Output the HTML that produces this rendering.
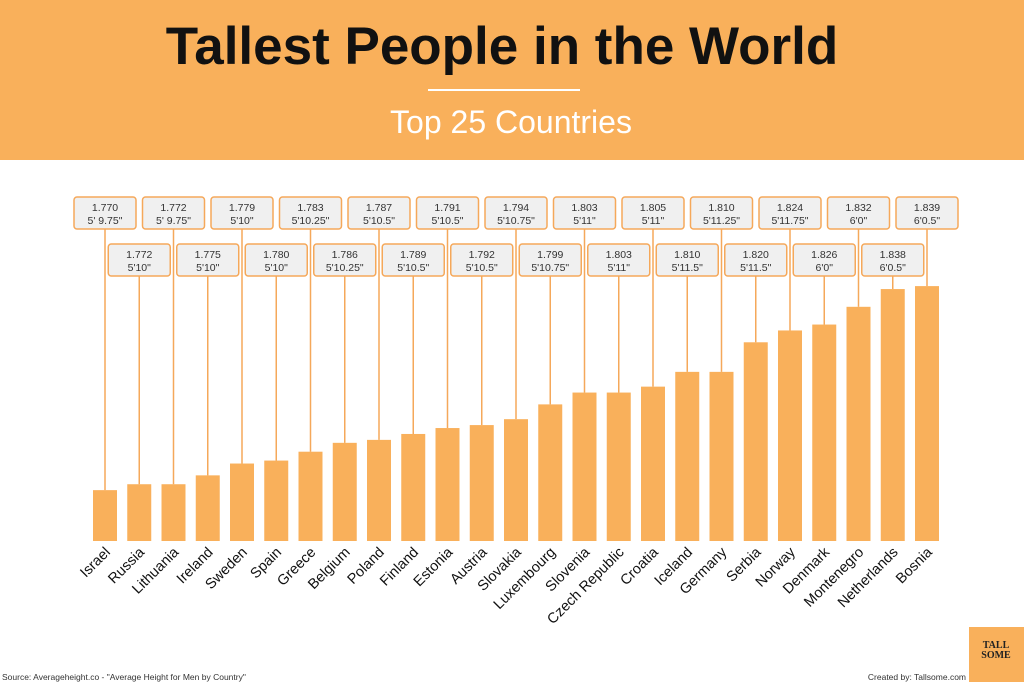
<!DOCTYPE html>
<html><head><meta charset="utf-8"><style>
body{margin:0;width:1024px;height:682px;overflow:hidden;background:#fff;font-family:"Liberation Sans",sans-serif}
</style></head><body>
<svg width="1024" height="682">
<rect x="0" y="0" width="1024" height="160" fill="#F9B05B"/>
<text x="502" y="64" text-anchor="middle" font-size="53" font-weight="bold" fill="#111">Tallest People in the World</text>
<rect x="428" y="89" width="152" height="2" fill="#fff"/>
<text x="511" y="133" text-anchor="middle" font-size="32" fill="#fff">Top 25 Countries</text>
<g id="marks"></g>
<text x="2" y="680" font-size="8.5" fill="#333">Source: Averageheight.co - "Average Height for Men by Country"</text>
<text x="966" y="680" text-anchor="end" font-size="8.5" fill="#333">Created by: Tallsome.com</text>
<rect x="969" y="627" width="55" height="55" fill="#F9B05B"/>
<text x="996" y="648" text-anchor="middle" font-size="10" font-family="Liberation Serif,serif" font-weight="bold" fill="#222">TALL</text>
<text x="996" y="658" text-anchor="middle" font-size="10" font-family="Liberation Serif,serif" font-weight="bold" fill="#222">SOME</text>
</svg>
<script>
const countries=["Israel","Russia","Lithuania","Ireland","Sweden","Spain","Greece","Belgium","Poland","Finland","Estonia","Austria","Slovakia","Luxembourg","Slovenia","Czech Republic","Croatia","Iceland","Germany","Serbia","Norway","Denmark","Montenegro","Netherlands","Bosnia"];
const heights=[1.770,1.772,1.772,1.775,1.779,1.780,1.783,1.786,1.787,1.789,1.791,1.792,1.794,1.799,1.803,1.803,1.805,1.810,1.810,1.820,1.824,1.826,1.832,1.838,1.839];
const feet=["5' 9.75\"","5'10\"","5' 9.75\"","5'10\"","5'10\"","5'10\"","5'10.25\"","5'10.25\"","5'10.5\"","5'10.5\"","5'10.5\"","5'10.5\"","5'10.75\"","5'10.75\"","5'11\"","5'11\"","5'11\"","5'11.5\"","5'11.25\"","5'11.5\"","5'11.75\"","6'0\"","6'0\"","6'0.5\"","6'0.5\""];
const NS="http://www.w3.org/2000/svg";
const g=document.getElementById('marks');
const base=541, x0=93, pitch=34.25, bw=24;
function yScale(v){return base-(v-1.7528)*2957;}
function xScale(i){return x0+i*pitch;}
function mk(t,a){const e=document.createElementNS(NS,t);for(const k in a)e.setAttribute(k,a[k]);g.appendChild(e);return e;}
heights.forEach((v,i)=>{
  const x=xScale(i),cx=x+bw/2,y=yScale(v);
  const top=i%2===0, by=top?197:244;
  const ln=mk('line',{x1:cx,x2:cx,y1:by+32,y2:y,stroke:'#F5A85A','stroke-width':1.5});
  
  
  const r=mk('rect',{x:x+bw/2-31,y:by,width:62,height:32,rx:3,fill:'#F0F0F0',stroke:'#F5A85A','stroke-width':1.5});
  
  
  const t1=mk('text',{x:cx,y:by+14,'text-anchor':'middle','font-size':10.5,fill:'#333'});t1.textContent=v.toFixed(3);
  
  
  const t2=mk('text',{x:cx,y:by+27,'text-anchor':'middle','font-size':10.5,fill:'#333'});t2.textContent=feet[i];
  
  
  const b=mk('rect',{x:x,y:y,width:bw,height:base-y,fill:'#F9B05B'});
  
  
  const lb=mk('text',{x:cx+6,y:553,'text-anchor':'end','font-size':14.5,fill:'#111',transform:`rotate(-45 ${cx+6} 553)`});lb.textContent=countries[i];
  
  
});
</script>
</body></html>
